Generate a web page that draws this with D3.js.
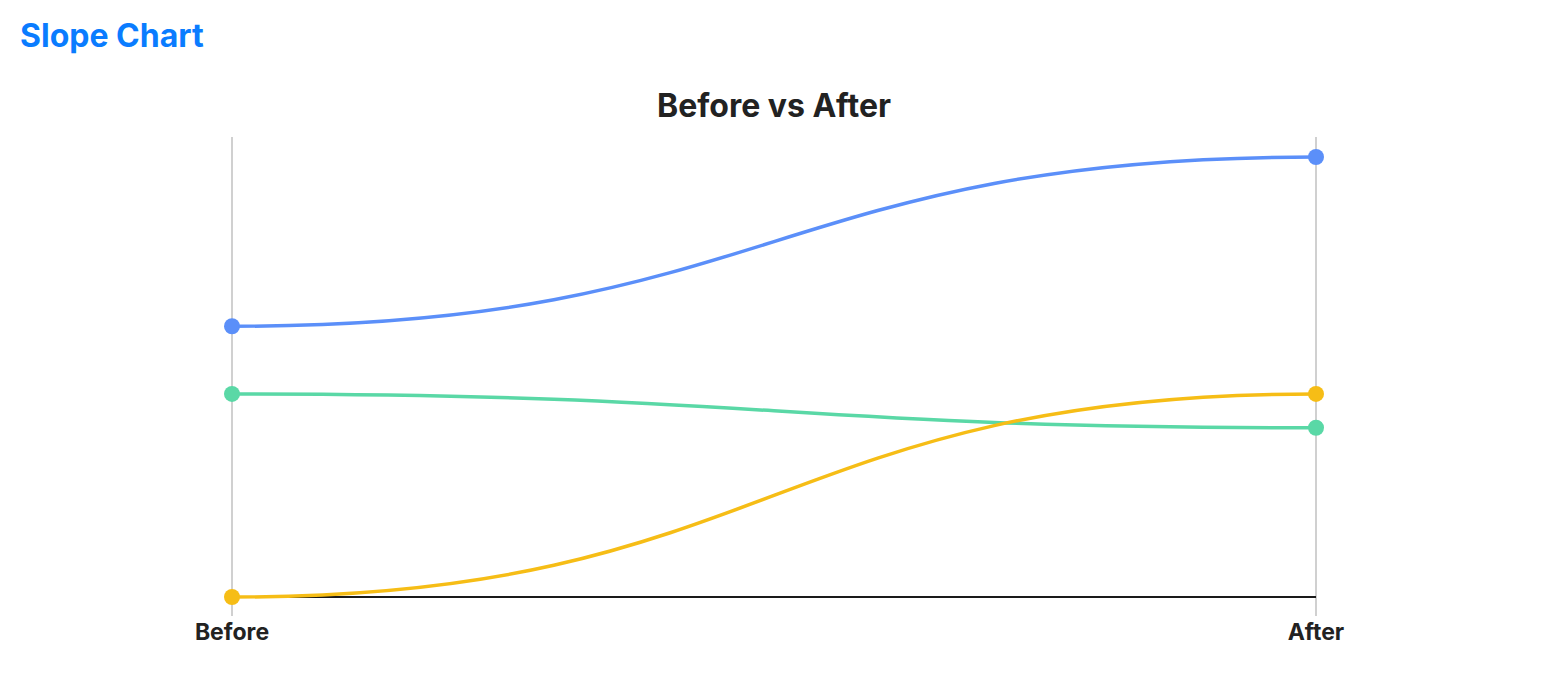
<!DOCTYPE html>
<html>
<head>
<meta charset="utf-8">
<script src="https://cdn.jsdelivr.net/npm/d3@7"></script>
<style>
  body { margin: 0; background: #fff; font-family: Inter, "Noto Sans", sans-serif; }
  h1 { margin: 0; position: absolute; left: 20px; top: 16px; font-size: 32px; line-height: 40px; font-weight: 700; color: #0a7cff; }
</style>
</head>
<body>
<h1>Slope Chart</h1>
<div id="chart"></div>
<script>
// data
const periods = ["Before", "After"];
const seriesNames = ["A", "B", "C"];
const beforeValues = [18, 16, 10];
const afterValues = [23, 15, 16];
const colors = ["#5b8ff9", "#5ad8a6", "#f6bd16"];

(function() {
    const width = 1546, height = 696;
    const x0 = 232, x1 = 1316, yBottom = 597, yTop = 157;

    const svg = d3.select("#chart").append("svg")
        .attr("width", width).attr("height", height);

    svg.append("text")
        .attr("x", 774).attr("y", 117)
        .attr("text-anchor", "middle")
        .style("font-size", "32px").style("font-weight", 700).style("fill", "#222")
        .text("Before vs After");

    const x = d3.scalePoint().domain(periods).range([x0, x1]);
    const allValues = beforeValues.concat(afterValues);
    const y = d3.scaleLinear().domain(d3.extent(allValues)).range([yBottom, yTop]);

    // vertical guide lines
    periods.forEach(p => {
        svg.append("line")
            .attr("x1", x(p)).attr("x2", x(p))
            .attr("y1", 137).attr("y2", 616)
            .attr("stroke", "#d0d0d0").attr("stroke-width", 2);
    });

    // baseline
    svg.append("line")
        .attr("x1", x0).attr("x2", x1)
        .attr("y1", y(d3.min(allValues))).attr("y2", y(d3.min(allValues)))
        .attr("stroke", "#1a1a1a").attr("stroke-width", 2);

    const line = d3.line()
        .x(d => x(d.period))
        .y(d => y(d.value))
        .curve(d3.curveBumpX);

    const data = seriesNames.map((n, i) => ({
        name: n, color: colors[i],
        points: [{ period: periods[0], value: beforeValues[i] }, { period: periods[1], value: afterValues[i] }]
    }));

    data.forEach(s => {
        svg.append("path")
            .datum(s.points)
            .attr("d", line)
            .attr("fill", "none")
            .attr("stroke", s.color)
            .attr("stroke-width", 3.5);
    });

    data.forEach(s => {
        s.points.forEach(p => {
            svg.append("circle")
                .attr("cx", x(p.period)).attr("cy", y(p.value))
                .attr("r", 8).attr("fill", s.color);
        });
    });

    // axis labels
    periods.forEach(p => {
        svg.append("text")
            .attr("x", x(p)).attr("y", 640)
            .attr("text-anchor", "middle")
            .style("font-size", "23px").style("font-weight", 700).style("fill", "#222")
            .text(p);
    });
})();
</script>
</body>
</html>
